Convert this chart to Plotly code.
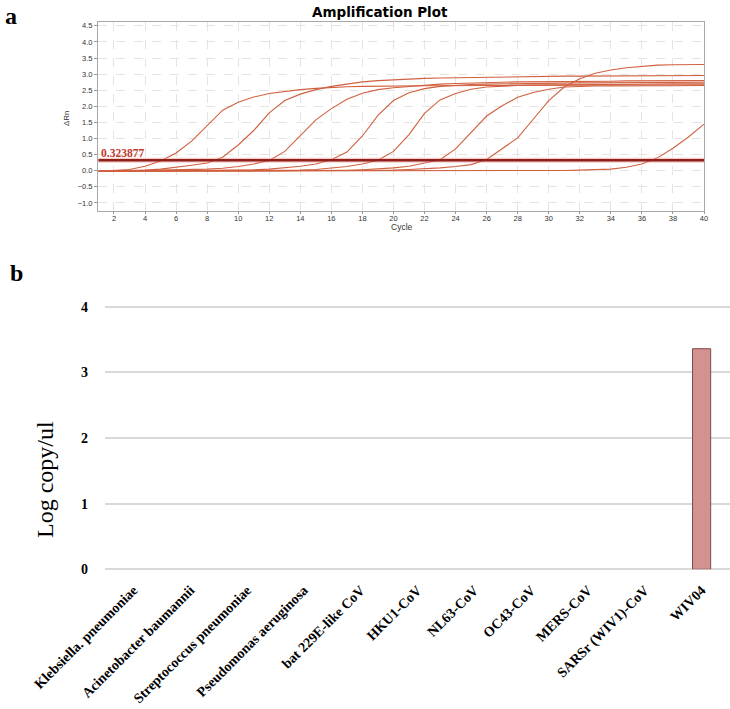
import plotly.graph_objects as go

# ---------------- data: panel a (amplification curves) ----------------
cycles = list(range(1, 41))

curve_1 = [-0.02, 0.00, 0.04, 0.14, 0.30, 0.55, 0.92, 1.40, 1.88, 2.13,
           2.29, 2.40, 2.47, 2.52, 2.56, 2.59, 2.61, 2.62, 2.63, 2.63,
           2.64, 2.64, 2.64, 2.65, 2.65, 2.65, 2.65, 2.65, 2.66, 2.66,
           2.66, 2.66, 2.66, 2.66, 2.66, 2.67, 2.67, 2.67, 2.67, 2.67]
curve_2 = [-0.02, -0.01, 0.01, 0.02, 0.05, 0.10, 0.17, 0.24, 0.42, 0.80,
           1.25, 1.80, 2.18, 2.38, 2.52, 2.62, 2.70, 2.76, 2.80, 2.83,
           2.85, 2.87, 2.88, 2.89, 2.90, 2.91, 2.92, 2.92, 2.93, 2.93,
           2.94, 2.94, 2.94, 2.95, 2.95, 2.95, 2.95, 2.96, 2.96, 2.96]
curve_3 = [-0.02, -0.01, 0.00, 0.00, 0.01, 0.02, 0.03, 0.05, 0.08, 0.13,
           0.21, 0.32, 0.60, 1.08, 1.58, 1.93, 2.22, 2.41, 2.52, 2.58,
           2.62, 2.66, 2.69, 2.71, 2.73, 2.74, 2.75, 2.76, 2.76, 2.77,
           2.77, 2.78, 2.78, 2.78, 2.79, 2.79, 2.79, 2.80, 2.80, 2.80]
curve_4 = [-0.02, -0.01, -0.01, 0.00, 0.00, 0.01, 0.01, 0.01, 0.02, 0.02,
           0.03, 0.05, 0.09, 0.14, 0.21, 0.34, 0.58, 1.08, 1.72, 2.18,
           2.42, 2.55, 2.62, 2.66, 2.68, 2.69, 2.70, 2.71, 2.71, 2.72,
           2.72, 2.73, 2.73, 2.73, 2.74, 2.74, 2.74, 2.75, 2.75, 2.75]
curve_5 = [-0.02, -0.01, -0.01, -0.01, 0.00, 0.00, 0.00, 0.00, 0.01, 0.01,
           0.01, 0.01, 0.01, 0.02, 0.04, 0.08, 0.13, 0.21, 0.33, 0.60,
           1.12, 1.78, 2.20, 2.40, 2.53, 2.60, 2.63, 2.65, 2.66, 2.67,
           2.67, 2.68, 2.68, 2.68, 2.69, 2.69, 2.69, 2.70, 2.70, 2.70]
curve_6 = [-0.02, -0.01, -0.01, -0.01, 0.00, 0.00, 0.00, 0.00, 0.00, 0.00,
           0.01, 0.01, 0.01, 0.01, 0.01, 0.01, 0.01, 0.03, 0.05, 0.09,
           0.14, 0.24, 0.34, 0.68, 1.18, 1.70, 2.02, 2.28, 2.43, 2.53,
           2.60, 2.62, 2.63, 2.63, 2.64, 2.64, 2.64, 2.64, 2.65, 2.65]
curve_7 = [-0.02, -0.02, -0.01, -0.01, -0.01, 0.00, 0.00, 0.00, 0.00, 0.00,
           0.00, 0.00, 0.00, 0.01, 0.01, 0.01, 0.01, 0.01, 0.01, 0.02,
           0.04, 0.06, 0.09, 0.13, 0.19, 0.35, 0.68, 1.02, 1.60, 2.18,
           2.60, 2.86, 3.03, 3.13, 3.20, 3.25, 3.28, 3.29, 3.30, 3.30]
curve_8 = [-0.01, -0.01, -0.01, 0.00, 0.00, 0.00, 0.00, 0.00, 0.00, 0.00,
           0.00, 0.00, 0.00, 0.00, 0.00, 0.00, 0.00, 0.00, 0.00, 0.00,
           0.00, 0.00, 0.00, 0.00, 0.00, 0.00, 0.00, 0.00, 0.00, 0.01,
           0.01, 0.02, 0.03, 0.05, 0.11, 0.21, 0.40, 0.70, 1.05, 1.45]
curves = [curve_1, curve_2, curve_3, curve_4, curve_5, curve_6, curve_7, curve_8]

threshold = 0.323877
x_ticks_a = list(range(2, 41, 2))
y_ticks_a = [-1.0, -0.5, 0.0, 0.5, 1.0, 1.5, 2.0, 2.5, 3.0, 3.5, 4.0, 4.5]

# ---------------- data: panel b (specificity bars) ----------------
organisms = ["Klebsiella. pneumoniae", "Acinetobacter baumannii",
             "Streptococcus pneumoniae", "Pseudomonas aeruginosa",
             "bat 229E-like CoV", "HKU1-CoV", "NL63-CoV", "OC43-CoV",
             "MERS-CoV", "SARSr (WIV1)-CoV", "WIV04"]
log_copies = [0, 0, 0, 0, 0, 0, 0, 0, 0, 0, 3.36]
y_ticks_b = [0, 1, 2, 3, 4]

# ---------------- figure ----------------
W, H = 730, 709
fig = go.Figure()

curve_color = "#D0603F"
for c in curves:
    fig.add_trace(go.Scatter(x=cycles, y=c, mode="lines",
                             line=dict(color=curve_color, width=1.1),
                             xaxis="x", yaxis="y", showlegend=False,
                             hoverinfo="skip"))

# threshold line (halo + dark line)
fig.add_trace(go.Scatter(x=[cycles[0], cycles[-1]], y=[threshold, threshold],
                         mode="lines", line=dict(color="rgba(235,140,128,0.45)", width=5),
                         xaxis="x", yaxis="y", showlegend=False, hoverinfo="skip"))
fig.add_trace(go.Scatter(x=[cycles[0], cycles[-1]], y=[threshold, threshold],
                         mode="lines", line=dict(color="#8E1F1A", width=2.4),
                         xaxis="x", yaxis="y", showlegend=False, hoverinfo="skip"))

bar_edge = [0 if v == 0 else 1 for v in log_copies]
fig.add_trace(go.Bar(x=organisms, y=log_copies, width=0.32,
                     marker=dict(color="#D39190",
                                 line=dict(color="#7E4A4A", width=bar_edge)),
                     xaxis="x2", yaxis="y2", showlegend=False))

small_font = dict(family="Liberation Sans, Arial", size=7.5, color="#333333")

fig.update_layout(
    width=W, height=H,
    margin=dict(l=0, r=0, t=0, b=0),
    paper_bgcolor="white", plot_bgcolor="white",
    showlegend=False,
    xaxis=dict(domain=[98 / W, 704 / W], range=[0.97, 40], anchor="y",
               tickmode="array", tickvals=x_ticks_a,
               ticks="outside", ticklen=2, tickcolor="#999999",
               tickfont=small_font, showgrid=True, gridcolor="#E4E4E4",
               griddash="dash", gridwidth=1, zeroline=False,
               showline=True, linecolor="#A8A8A8", linewidth=1, mirror=True,
               ticklabelstandoff=-2, automargin=False),
    yaxis=dict(domain=[1 - 211 / H, 1 - 22 / H], range=[-1.25, 4.62], anchor="x",
               tickmode="array", tickvals=y_ticks_a, tickformat=".1f",
               ticks="outside", ticklen=3, tickcolor="#999999",
               tickfont=small_font, showgrid=True, gridcolor="#E4E4E4",
               griddash="dash", gridwidth=1, zeroline=False,
               showline=True, linecolor="#A8A8A8", linewidth=1, mirror=True,
               automargin=False),
    xaxis2=dict(domain=[105 / W, 1.0], anchor="y2", type="category",
                range=[-0.5, 10.5], tickangle=-45, ticks="",
                tickfont=dict(family="Liberation Serif, Times New Roman", size=14,
                              color="black", weight="bold"),
                showgrid=False, zeroline=False, showline=False,
                ticklabelstandoff=9, automargin=False),
    yaxis2=dict(domain=[1 - 569.3 / H, 1 - 287 / H], range=[0, 4.3], anchor="x2",
                tickmode="array", tickvals=y_ticks_b, ticks="",
                tickfont=dict(family="Liberation Serif, Times New Roman", size=14,
                              color="black", weight="bold"),
                showgrid=True, gridcolor="#D9D9D9", gridwidth=1.5,
                zeroline=True, zerolinecolor="#D9D9D9", zerolinewidth=1.5,
                showline=False, ticklabelstandoff=16, automargin=False),
)

annotations = [
    dict(text="a", x=3 / W, y=1 - 1 / H, xref="paper", yref="paper",
         xanchor="left", yanchor="top", showarrow=False,
         font=dict(family="Liberation Serif, Times New Roman", size=24,
                   color="black", weight="bold")),
    dict(text="b", x=8 / W, y=1 - 258 / H, xref="paper", yref="paper",
         xanchor="left", yanchor="top", showarrow=False,
         font=dict(family="Liberation Serif, Times New Roman", size=24,
                   color="black", weight="bold")),
    dict(text="Amplification Plot", x=380 / W, y=1 - 12 / H, xref="paper", yref="paper",
         xanchor="center", yanchor="middle", showarrow=False,
         font=dict(family="DejaVu Sans", size=13.5, color="black", weight="bold")),
    dict(text="Cycle", x=402 / W, y=1 - 227 / H, xref="paper", yref="paper",
         xanchor="center", yanchor="middle", showarrow=False,
         font=dict(family="Liberation Sans, Arial", size=8.5, color="#333333")),
    dict(text="ΔRn", x=67 / W, y=1 - 118 / H, xref="paper", yref="paper",
         xanchor="center", yanchor="middle", showarrow=False, textangle=-90,
         font=dict(family="Liberation Sans, Arial", size=8, color="#333333")),
    dict(text="0.323877", x=1.05, y=threshold, xref="x", yref="y",
         xanchor="left", yanchor="bottom", showarrow=False, yshift=-1,
         font=dict(family="Liberation Serif, Times New Roman", size=11.5,
                   color="#C0392B", weight="bold")),
    dict(text="Log copy/ul", x=45 / W, y=1 - 480 / H, xref="paper", yref="paper",
         xanchor="center", yanchor="middle", showarrow=False, textangle=-90,
         font=dict(family="Liberation Serif, Times New Roman", size=24, color="black")),
]
fig.update_layout(annotations=annotations)

fig.write_html("out.html",
               config={"displayModeBar": False},
               post_script="document.body.style.margin='0px';"
                           "document.body.style.padding='0px';")
